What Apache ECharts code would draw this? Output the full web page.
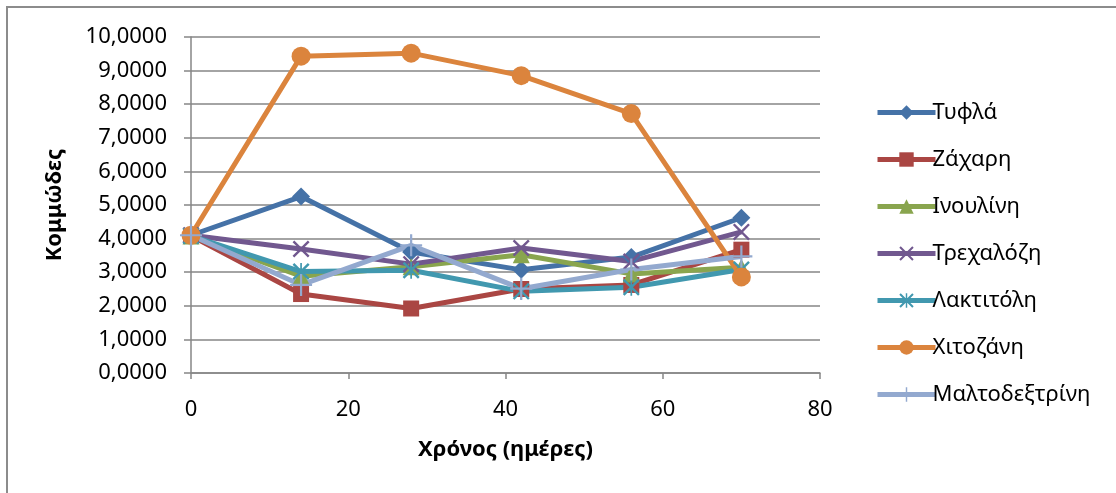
<!DOCTYPE html>
<html>
<head>
<meta charset="utf-8">
<script src="https://cdn.jsdelivr.net/npm/echarts@6/dist/echarts.min.js"></script>
<style>
  html, body { margin: 0; padding: 0; background: #fff; }
  #chart { width: 1116px; height: 493px; }
</style>
</head>
<body>
<div id="chart"></div>
<script>
// Sampling days
const days = [0, 14, 28, 42, 56, 70];

// Gum content per treatment
const tyfla        = [4.10, 5.25, 3.60, 3.07, 3.45, 4.62];
const zachari      = [4.08, 2.35, 1.92, 2.50, 2.62, 3.67];
const inoulini     = [4.08, 2.88, 3.16, 3.52, 2.95, 3.15];
const trechalozi   = [4.10, 3.69, 3.24, 3.72, 3.32, 4.20];
const laktitoli    = [4.08, 3.02, 3.06, 2.43, 2.55, 3.08];
const chitozani    = [4.10, 9.43, 9.52, 8.85, 7.72, 2.86];
const maltodextrin = [4.10, 2.62, 3.80, 2.51, 3.08, 3.47];

const seriesNames = ['Τυφλά', 'Ζάχαρη', 'Ινουλίνη', 'Τρεχαλόζη', 'Λακτιτόλη', 'Χιτοζάνη', 'Μαλτοδεξτρίνη'];
const seriesData = [tyfla, zachari, inoulini, trechalozi, laktitoli, chitozani, maltodextrin];
const colors = ['#4572A7', '#AA4643', '#89A54E', '#71588F', '#4198AF', '#DB843D', '#93A9CF'];

// Marker shapes
const xMark = 'path://M0,1 L1,0 L5,4 L9,0 L10,1 L6,5 L10,9 L9,10 L5,6 L1,10 L0,9 L4,5 Z';
const starMark = 'path://M4.5,0 H5.5 V10 H4.5 Z M0,1 L1,0 L5,4 L9,0 L10,1 L6,5 L10,9 L9,10 L5,6 L1,10 L0,9 L4,5 Z';
const plusMark = 'path://M4.5,0 H5.5 V4.5 H10 V5.5 H5.5 V10 H4.5 V5.5 H0 V4.5 H4.5 Z';
const symbols = ['diamond', 'rect', 'triangle', xMark, starMark, 'circle', plusMark];
const symbolSizes = [18, 16, 17, 17, 17, 19, 22];

const font = 'Noto Sans, Open Sans, sans-serif';

const chart = echarts.init(document.getElementById('chart'), null, { renderer: 'canvas' });

chart.setOption({
  animation: false,
  backgroundColor: '#fff',
  color: colors,
  grid: { left: 191, right: 296, top: 37, bottom: 120, containLabel: false },
  graphic: [{
    type: 'rect',
    shape: { x: 7, y: 7, width: 1200, height: 600 },
    style: { fill: 'none', stroke: '#8c8c8c', lineWidth: 2 },
    silent: true
  }],
  legend: {
    orient: 'vertical',
    left: 870,
    top: 93,
    itemWidth: 58,
    itemHeight: 18,
    itemGap: 18,
    lineStyle: { width: 5 },
    textStyle: { fontFamily: font, fontSize: 22, lineHeight: 29, color: '#000', padding: [0, 0, 0, -8] },
    data: seriesNames
  },
  xAxis: {
    type: 'value',
    min: 0, max: 80, interval: 20,
    name: 'Χρόνος (ημέρες)',
    nameLocation: 'middle',
    nameGap: 66,
    nameTextStyle: { fontFamily: font, fontSize: 22, fontWeight: 'bold', color: '#000' },
    axisLine: { show: true, onZero: false, lineStyle: { color: '#868686', width: 1.5 } },
    axisTick: { show: true, inside: false, length: 6, lineStyle: { color: '#868686', width: 1.5 } },
    axisLabel: { fontFamily: font, fontSize: 22, color: '#000', margin: 26 },
    splitLine: { show: false }
  },
  yAxis: {
    type: 'value',
    min: 0, max: 10, interval: 1,
    name: 'Κομμώδες',
    nameLocation: 'middle',
    nameGap: 125,
    nameRotate: 90,
    nameTextStyle: { fontFamily: font, fontSize: 22, fontWeight: 'bold', color: '#000' },
    axisLine: { show: true, lineStyle: { color: '#868686', width: 1.5 } },
    axisTick: { show: true, inside: false, length: 7, lineStyle: { color: '#868686', width: 1.5 } },
    axisLabel: {
      fontFamily: font, fontSize: 22, color: '#000', margin: 24,
      formatter: v => v.toFixed(4).replace('.', ',')
    },
    splitLine: { show: true, lineStyle: { color: '#868686', width: 1.5 } }
  },
  series: seriesNames.map((name, i) => ({
    name,
    type: 'line',
    data: days.map((d, j) => [d, seriesData[i][j]]),
    symbol: symbols[i],
    symbolSize: symbolSizes[i],
    showAllSymbol: true,
    lineStyle: { width: 5, color: colors[i] },
    itemStyle: { color: colors[i], borderColor: colors[i], borderWidth: 0 },
    emphasis: { disabled: true }
  }))
});
</script>
</body>
</html>
